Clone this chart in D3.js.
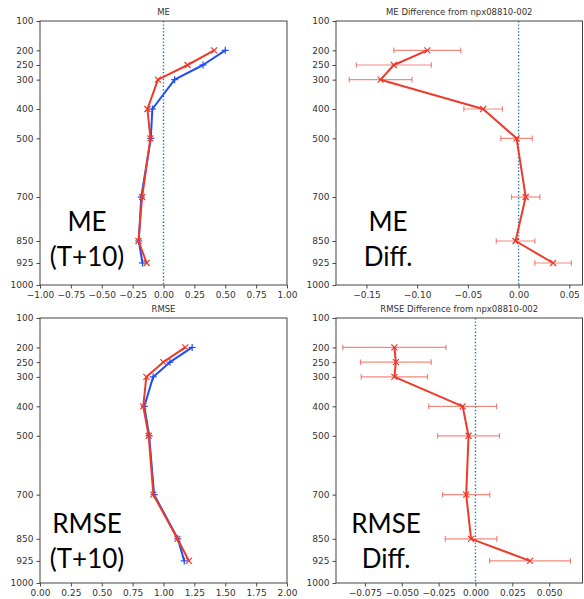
<!DOCTYPE html>
<html>
<head>
<meta charset="utf-8">
<script src="https://cdn.jsdelivr.net/npm/d3@7"></script>
<style>
  html, body { margin: 0; padding: 0; background: #fff; }
  svg { display: block; }
  .tick text { font-family: "DejaVu Sans", sans-serif; font-size: 9px; fill: #333; }
  .ptitle { font-family: "DejaVu Sans", sans-serif; font-size: 8.5px; fill: #333; }
  .big { font-family: Lato, "Open Sans", sans-serif; font-size: 26px; fill: #000; }
</style>
</head>
<body>
<svg id="chart" width="584" height="599"></svg>
<script>
// Pressure levels (hPa) at which the scores are computed
const levels = [200, 250, 300, 400, 500, 700, 850, 925];
const pressureTicks = [100, 200, 250, 300, 400, 500, 700, 850, 925, 1000];

// Mean error, control (blue) and experiment (red)
const meControl = [0.50, 0.32, 0.09, -0.09, -0.103, -0.18, -0.20, -0.17];
const meExperiment = [0.41, 0.195, -0.045, -0.13, -0.106, -0.173, -0.203, -0.136];
// Mean error difference from npx08810-002 and its half-width interval
const meDiff = [-0.090, -0.123, -0.136, -0.035, -0.002, 0.007, -0.003, 0.034];
const meDiffErr = [0.033, 0.037, 0.031, 0.019, 0.0155, 0.014, 0.019, 0.018];

// RMSE, control (blue) and experiment (red)
const rmseControl = [1.232, 1.052, 0.916, 0.845, 0.884, 0.924, 1.116, 1.168];
const rmseExperiment = [1.176, 0.998, 0.861, 0.836, 0.880, 0.918, 1.113, 1.206];
// RMSE difference from npx08810-002 and its half-width interval
const rmseDiff = [-0.055, -0.054, -0.055, -0.0087, -0.0047, -0.0063, -0.003, 0.037];
const rmseDiffErr = [0.035, 0.024, 0.0225, 0.023, 0.021, 0.016, 0.0175, 0.0274];

// Axis tick values
const meTicks = [-1.00, -0.75, -0.50, -0.25, 0.00, 0.25, 0.50, 0.75, 1.00];
const meDiffTicks = [-0.15, -0.10, -0.05, 0.00, 0.05];
const rmseTicks = [0.00, 0.25, 0.50, 0.75, 1.00, 1.25, 1.50, 1.75, 2.00];
const rmseDiffTicks = [-0.075, -0.050, -0.025, 0.000, 0.025, 0.050];

const BLUE = "#1f4ef2";
const RED = "#ec3a2b";
const ZERO = "#1f77b4";

const svg = d3.select("#chart");

function drawPanel(p) {
  const g = svg.append("g");
  const x = d3.scaleLinear().domain(p.xDomain).range([p.left, p.right]);
  const y = d3.scaleLinear().domain([100, 1000]).range([p.top, p.bottom]);

  // axes
  const xAxis = d3.axisBottom(x).tickValues(p.xTicks).tickFormat(d3.format(p.fmt)).tickSize(3.5).tickPadding(3);
  const yAxis = d3.axisLeft(y).tickValues(pressureTicks).tickFormat(d3.format("d")).tickSize(3.5).tickPadding(3);
  const gx = g.append("g").attr("transform", `translate(0,${p.bottom})`).call(xAxis);
  const gy = g.append("g").attr("transform", `translate(${p.left},0)`).call(yAxis);
  [gx, gy].forEach(a => {
    a.select(".domain").remove();
    a.selectAll(".tick line").attr("stroke", "#333").attr("stroke-width", 0.9);
  });

  // frame
  g.append("rect")
    .attr("x", p.left).attr("y", p.top)
    .attr("width", p.right - p.left).attr("height", p.bottom - p.top)
    .attr("fill", "none").attr("stroke", "#444").attr("stroke-width", 1);

  // title
  g.append("text").attr("class", "ptitle")
    .attr("x", (p.left + p.right) / 2).attr("y", p.top - 6)
    .attr("text-anchor", "middle").text(p.title);

  // zero reference line
  if (p.xDomain[0] < 0) {
    g.append("line")
      .attr("x1", x(0)).attr("x2", x(0)).attr("y1", p.top).attr("y2", p.bottom)
      .attr("stroke", ZERO).attr("stroke-width", 1.4).attr("stroke-dasharray", "1.4,2");
  }

  const line = d3.line().x(d => x(d[0])).y(d => y(d[1]));

  p.series.forEach(s => {
    const pts = s.values.map((v, i) => [v, levels[i]]);

    // error bars
    if (s.err) {
      const eb = g.append("g").attr("stroke", s.color).attr("stroke-opacity", 0.6).attr("stroke-width", 1.2);
      pts.forEach((d, i) => {
        const lo = x(d[0] - s.err[i]), hi = x(d[0] + s.err[i]), yy = y(d[1]);
        eb.append("line").attr("x1", lo).attr("x2", hi).attr("y1", yy).attr("y2", yy);
        eb.append("line").attr("x1", lo).attr("x2", lo).attr("y1", yy - 2.8).attr("y2", yy + 2.8);
        eb.append("line").attr("x1", hi).attr("x2", hi).attr("y1", yy - 2.8).attr("y2", yy + 2.8);
      });
    }

    g.append("path").datum(pts).attr("d", line)
      .attr("fill", "none").attr("stroke", s.color).attr("stroke-width", 2)
      .attr("stroke-linejoin", "round");

    // markers
    const m = g.append("g").attr("stroke", s.color).attr("stroke-width", 1.2);
    pts.forEach(d => {
      const cx = x(d[0]), cy = y(d[1]);
      if (s.marker === "+") {
        m.append("line").attr("x1", cx - 3.5).attr("x2", cx + 3.5).attr("y1", cy).attr("y2", cy);
        m.append("line").attr("x1", cx).attr("x2", cx).attr("y1", cy - 3.5).attr("y2", cy + 3.5);
      } else {
        const r = 3;
        m.append("line").attr("x1", cx - r).attr("x2", cx + r).attr("y1", cy - r).attr("y2", cy + r);
        m.append("line").attr("x1", cx - r).attr("x2", cx + r).attr("y1", cy + r).attr("y2", cy - r);
      }
    });
  });

  // panel caption
  p.caption.forEach((t, i) => {
    g.append("text").attr("class", "big")
      .attr("x", p.capX).attr("y", p.capY + i * 35)
      .attr("text-anchor", "middle").text(t);
  });
}

drawPanel({
  left: 40, right: 287, top: 21, bottom: 285,
  xDomain: [-1, 1], xTicks: meTicks, fmt: ".2f", title: "ME",
  series: [
    { values: meControl, color: BLUE, marker: "+" },
    { values: meExperiment, color: RED, marker: "x" }
  ],
  caption: ["ME", "(T+10)"], capX: 87, capY: 231
});

drawPanel({
  left: 336, right: 582.5, top: 21, bottom: 285,
  xDomain: [-0.180, 0.063], xTicks: meDiffTicks, fmt: ".2f", title: "ME Difference from npx08810-002",
  series: [
    { values: meDiff, err: meDiffErr, color: RED, marker: "x" }
  ],
  caption: ["ME", "Diff."], capX: 388, capY: 231
});

drawPanel({
  left: 40, right: 287, top: 318, bottom: 583,
  xDomain: [0, 2], xTicks: rmseTicks, fmt: ".2f", title: "RMSE",
  series: [
    { values: rmseControl, color: BLUE, marker: "+" },
    { values: rmseExperiment, color: RED, marker: "x" }
  ],
  caption: ["RMSE", "(T+10)"], capX: 87, capY: 533
});

drawPanel({
  left: 336, right: 582.5, top: 318, bottom: 583,
  xDomain: [-0.0946, 0.0726], xTicks: rmseDiffTicks, fmt: ".3f", title: "RMSE Difference from npx08810-002",
  series: [
    { values: rmseDiff, err: rmseDiffErr, color: RED, marker: "x" }
  ],
  caption: ["RMSE", "Diff."], capX: 386, capY: 533
});
</script>
</body>
</html>
